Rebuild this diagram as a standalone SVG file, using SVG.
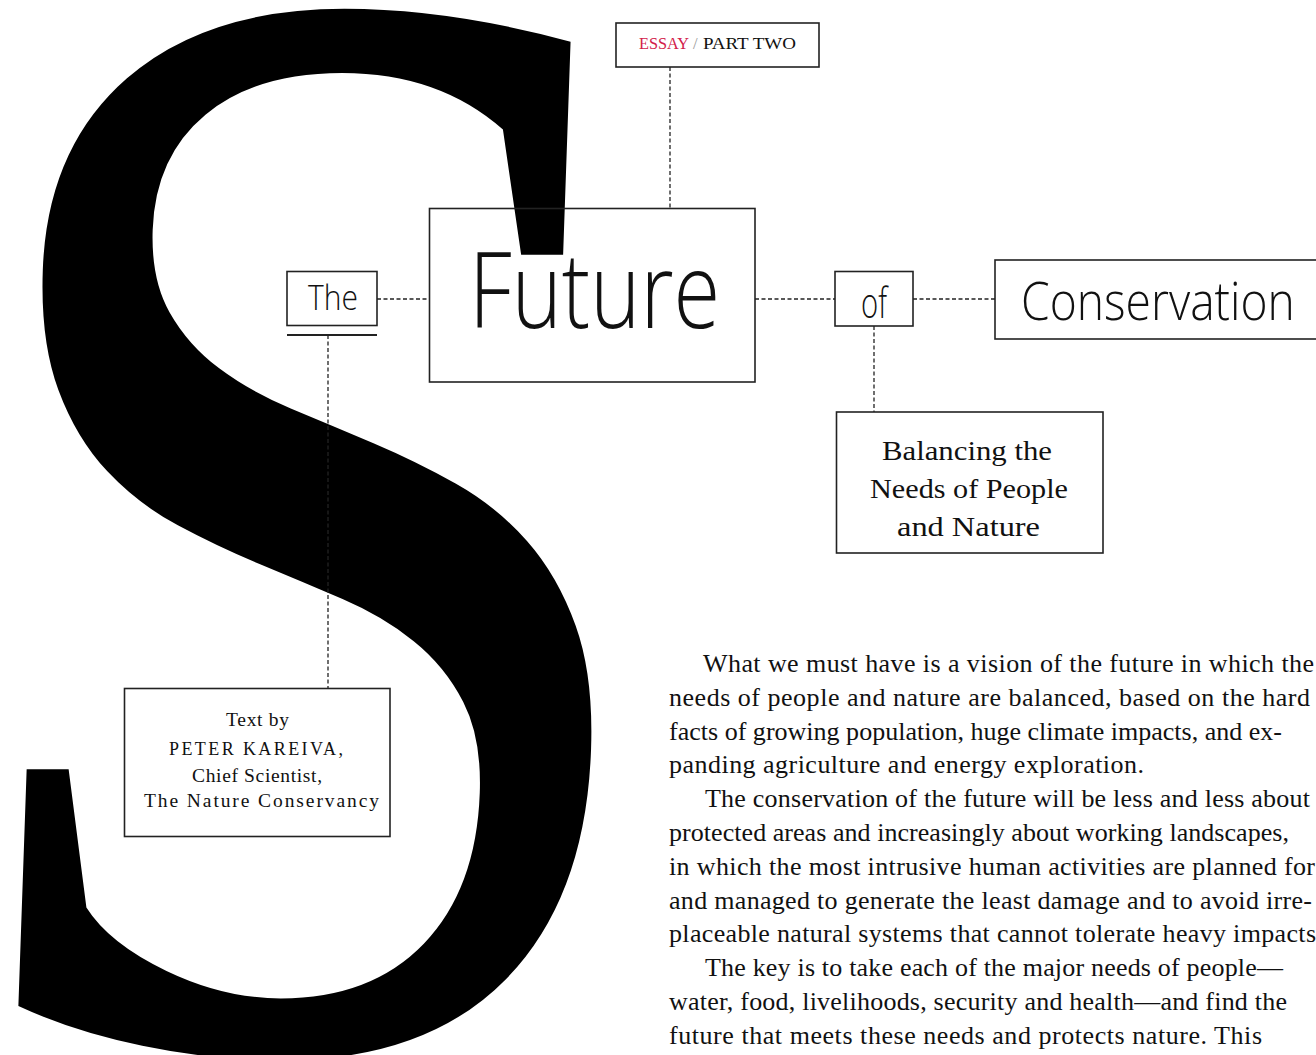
<svg xmlns="http://www.w3.org/2000/svg" width="1316" height="1055" viewBox="0 0 1316 1055">
<style>
.box{fill:none;stroke:#222;stroke-width:1.6}
.dash{fill:none;stroke:#222;stroke-width:1.3;stroke-dasharray:4 2.5}
.sans{font-family:"Open Sans","Noto Sans","Liberation Sans",sans-serif;font-weight:300;fill:#111}
.serif{font-family:"Liberation Serif","Times New Roman",serif;fill:#111}
.body{font-family:"Liberation Serif","Times New Roman",serif;font-size:26px;fill:#111}
</style>
<rect x="0" y="0" width="1316" height="1055" fill="#fff"/>
<g id="drop-cap">
<text x="0" y="0" text-anchor="middle" font-family="Liberation Serif, Times New Roman, serif" font-size="1565" fill="#000" transform="translate(295,1045) skewX(-2) scale(0.845,1)">S</text>
</g>
<g id="connectors">
<line class="dash" x1="670" y1="67" x2="670" y2="208"/>
<line class="dash" x1="377" y1="299" x2="429" y2="299"/>
<line class="dash" x1="755" y1="299" x2="835" y2="299"/>
<line class="dash" x1="913" y1="299" x2="995" y2="299"/>
<line class="dash" x1="874" y1="326" x2="874" y2="412"/>
<line class="dash" x1="328" y1="335" x2="328" y2="688"/>
</g>
<g id="node-essay">
<rect class="box" x="616" y="23" width="203" height="44"/>
<text class="serif" x="639" y="49" font-size="16.5" style="fill:#d2204a" textLength="50" lengthAdjust="spacingAndGlyphs">ESSAY</text>
<text class="serif" x="693" y="49" font-size="16.5" style="fill:#999">/</text>
<text class="serif" x="703" y="49" font-size="16.5" textLength="93" lengthAdjust="spacingAndGlyphs">PART TWO</text>
</g>
<g id="node-the">
<rect class="box" x="287" y="271.5" width="90" height="54"/>
<line x1="287" y1="335" x2="377" y2="335" stroke="#222" stroke-width="2"/>
<text class="sans" x="308" y="310" font-size="34" textLength="50" lengthAdjust="spacingAndGlyphs">The</text>
</g>
<g id="node-future">
<rect class="box" x="429.5" y="208.5" width="325.5" height="173.5"/>
<text class="sans" x="0" y="0" font-size="106" textLength="318" lengthAdjust="spacingAndGlyphs" transform="translate(469,328) scale(0.79,1)">Future</text>
</g>
<g id="node-of">
<rect class="box" x="835" y="271.5" width="78" height="54.5"/>
<text class="sans" x="861" y="318" font-size="43" textLength="26" lengthAdjust="spacingAndGlyphs">of</text>
</g>
<g id="node-conservation">
<rect class="box" x="995" y="260" width="340" height="79"/>
<text class="sans" x="0" y="0" font-size="54" textLength="334" lengthAdjust="spacingAndGlyphs" transform="translate(1021,320) scale(0.82,1)">Conservation</text>
</g>
<g id="node-balancing">
<rect class="box" x="836.5" y="412" width="266.5" height="141"/>
<text class="serif" x="882" y="460" font-size="28" textLength="170" lengthAdjust="spacingAndGlyphs">Balancing the</text>
<text class="serif" x="870" y="498" font-size="28" textLength="198" lengthAdjust="spacingAndGlyphs">Needs of People</text>
<text class="serif" x="897" y="536" font-size="28" textLength="143" lengthAdjust="spacingAndGlyphs">and Nature</text>
</g>
<g id="node-textby">
<rect class="box" x="124.5" y="688.5" width="265.5" height="148"/>
<text class="serif" x="226" y="726" font-size="19.5" textLength="63" lengthAdjust="spacing">Text by</text>
<text class="serif" x="169" y="755" font-size="18" textLength="174" lengthAdjust="spacing">PETER KAREIVA,</text>
<text class="serif" x="192" y="782" font-size="19.5" textLength="130" lengthAdjust="spacing">Chief Scientist,</text>
<text class="serif" x="144" y="807" font-size="19.5" textLength="235" lengthAdjust="spacing">The Nature Conservancy</text>
</g>
<g id="body-text">
<text class="body" x="703" y="672" textLength="611" lengthAdjust="spacing">What we must have is a vision of the future in which the</text>
<text class="body" x="669" y="705.8" textLength="641" lengthAdjust="spacing">needs of people and nature are balanced, based on the hard</text>
<text class="body" x="669" y="739.6" textLength="613" lengthAdjust="spacing">facts of growing population, huge climate impacts, and ex-</text>
<text class="body" x="669" y="773.4" textLength="475" lengthAdjust="spacing">panding agriculture and energy exploration.</text>
<text class="body" x="705" y="807.2" textLength="605" lengthAdjust="spacing">The conservation of the future will be less and less about</text>
<text class="body" x="669" y="841" textLength="620" lengthAdjust="spacing">protected areas and increasingly about working landscapes,</text>
<text class="body" x="669" y="874.8" textLength="646" lengthAdjust="spacing">in which the most intrusive human activities are planned for</text>
<text class="body" x="669" y="908.6" textLength="643" lengthAdjust="spacing">and managed to generate the least damage and to avoid irre-</text>
<text class="body" x="669" y="942.4" textLength="647" lengthAdjust="spacing">placeable natural systems that cannot tolerate heavy impacts</text>
<text class="body" x="705" y="976.2" textLength="578" lengthAdjust="spacing">The key is to take each of the major needs of people—</text>
<text class="body" x="669" y="1010" textLength="618" lengthAdjust="spacing">water, food, livelihoods, security and health—and find the</text>
<text class="body" x="669" y="1043.8" textLength="593" lengthAdjust="spacing">future that meets these needs and protects nature. This</text>
</g>
</svg>
